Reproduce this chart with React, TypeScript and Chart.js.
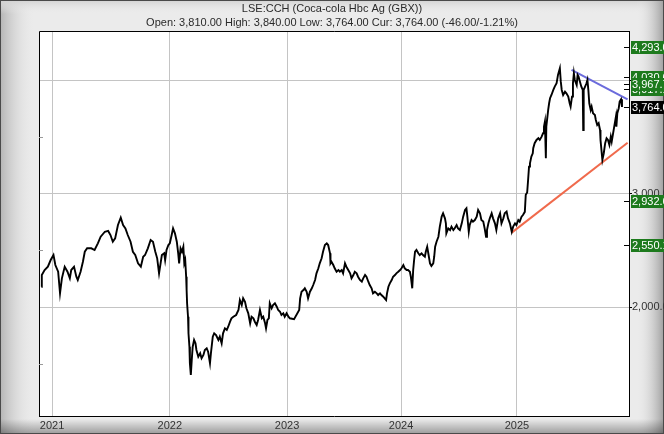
import React, { useEffect, useRef } from "react";
import { Chart, registerables } from "chart.js";
Chart.register(...registerables);

const TITLE = "LSE:CCH (Coca-cola Hbc Ag (GBX))";
const SUBTITLE = "Open: 3,810.00 High: 3,840.00 Low: 3,764.00 Cur: 3,764.00 (-46.00/-1.21%)";

const YEAR_LABELS = ["2021", "2022", "2023", "2024", "2025"];
const YEAR_START_DAYS = [28, 280, 531, 775, 1023];
const X_MIN = 0;
const X_MAX = 1263;
const Y_MIN = 1043;
const Y_MAX = 4432;
const Y_GRID = [2000, 3000, 4000];
const Y_MINOR = [1500, 2500, 3500];

// trading-day index since start of chart
const DAYS = [
  5, 6, 12, 19, 25, 31, 35, 41, 45, 49, 55, 61, 66, 69, 75, 80, 83, 89, 94, 98,
  103, 112, 119, 126, 132, 141, 148, 153, 158, 163, 169, 175, 180, 185, 190, 196, 201, 206, 212, 218,
  223, 227, 233, 239, 244, 249, 253, 257, 263, 268, 270, 273, 277, 280, 284, 287, 291, 295, 298, 300,
  303, 306, 309, 311, 313, 315, 316, 317, 319, 320, 322, 323, 325, 327, 329, 332, 335, 337, 341, 345,
  348, 352, 355, 359, 362, 366, 368, 372, 375, 379, 384, 387, 391, 394, 398, 402, 405, 409, 412, 416,
  422, 427, 430, 434, 437, 441, 444, 448, 452, 455, 459, 462, 466, 469, 473, 477, 480, 484, 486, 489,
  492, 494, 498, 501, 505, 509, 512, 516, 519, 523, 526, 530, 534, 537, 546, 557, 559, 562, 566, 569,
  573, 576, 580, 584, 587, 591, 594, 598, 601, 605, 608, 612, 616, 619, 623, 624, 626, 630, 633, 637,
  641, 644, 648, 651, 655, 658, 662, 666, 669, 673, 676, 680, 683, 687, 691, 694, 698, 701, 705, 708,
  712, 715, 719, 723, 726, 730, 733, 737, 740, 743, 745, 748, 751, 755, 758, 762, 765, 769, 773, 776,
  780, 783, 787, 790, 794, 796, 799, 801, 803, 805, 808, 812, 815, 819, 822, 826, 828, 831, 834, 837,
  840, 844, 846, 848, 851, 855, 858, 862, 865, 869, 871, 872, 876, 880, 883, 887, 890, 894, 897, 901,
  905, 908, 912, 915, 917, 920, 922, 926, 929, 933, 937, 940, 944, 947, 951, 954, 957, 959, 962, 965,
  969, 972, 976, 979, 983, 987, 990, 994, 997, 1001, 1004, 1008, 1012, 1015, 1019, 1022, 1026, 1029, 1033, 1036,
  1040, 1042, 1045, 1047, 1049, 1051, 1054, 1057, 1058, 1061, 1065, 1069, 1072, 1076, 1079, 1081, 1083, 1085, 1086, 1090,
  1092, 1094, 1097, 1101, 1104, 1108, 1111, 1115, 1117, 1119, 1122, 1126, 1129, 1133, 1136, 1138, 1141, 1143, 1145, 1147,
  1151, 1153, 1155, 1158, 1161, 1164, 1165, 1166, 1169, 1172, 1174, 1176, 1178, 1181, 1183, 1186, 1190, 1192, 1195, 1198,
  1201, 1202, 1204, 1206, 1209, 1212, 1215, 1218, 1221, 1224, 1226, 1229, 1232, 1235, 1236, 1238, 1241, 1243, 1246, 1248,
];

const PRICES = [
  2181, 2284, 2328, 2357, 2416, 2460, 2372, 2313, 2123, 2255, 2357, 2313, 2255, 2328, 2357, 2269, 2240, 2313, 2401, 2489,
  2519, 2519, 2504, 2563, 2621, 2665, 2672, 2636, 2577, 2607, 2724, 2789, 2724, 2695, 2636, 2577, 2489, 2460, 2387, 2357,
  2445, 2460, 2519, 2592, 2577, 2489, 2431, 2299, 2460, 2475, 2416, 2504, 2548, 2563, 2636, 2695, 2651, 2577, 2475, 2387,
  2519, 2489, 2533, 2387, 2416, 2269, 2152, 2035, 1917, 1771, 1653, 1507, 1404, 1536, 1653, 1712, 1683, 1624, 1565, 1595,
  1551, 1580, 1624, 1639, 1609, 1507, 1595, 1741, 1771, 1756, 1712, 1741, 1683, 1771, 1815, 1800, 1829, 1873, 1903, 1917,
  1932, 1976, 2064, 2020, 2079, 2049, 1991, 1947, 1859, 1917, 1903, 1873, 1844, 1888, 1976, 1903, 1917, 1859, 1815, 1888,
  1903, 2035, 1991, 2020, 2035, 2005, 1976, 1961, 1932, 1947, 1917, 1947, 1917, 1903, 1895, 1976, 2079, 2137, 2152, 2167,
  2137, 2079, 2137, 2167, 2196, 2240, 2299, 2343, 2387, 2431, 2489, 2548, 2563, 2548, 2475, 2387, 2401, 2372, 2343, 2313,
  2328, 2313, 2328, 2299, 2387, 2357, 2328, 2299, 2255, 2284, 2313, 2299, 2269, 2240, 2225, 2255, 2284, 2269, 2225, 2196,
  2167, 2123, 2137, 2123, 2108, 2123, 2108, 2093, 2079, 2064, 2123, 2181, 2211, 2240, 2269, 2284, 2299, 2313, 2328, 2343,
  2372, 2343, 2328, 2328, 2313, 2269, 2167, 2328, 2416, 2489, 2504, 2475, 2460, 2475, 2460, 2445, 2489, 2533, 2460, 2387,
  2364, 2387, 2445, 2533, 2577, 2621, 2710, 2798, 2827, 2783, 2739, 2651, 2695, 2680, 2710, 2680, 2695, 2724, 2695, 2680,
  2739, 2798, 2857, 2871, 2798, 2665, 2724, 2768, 2754, 2768, 2798, 2857, 2827, 2768, 2754, 2695, 2621, 2680, 2739, 2783,
  2827, 2783, 2739, 2680, 2783, 2827, 2739, 2783, 2827, 2842, 2783, 2739, 2665, 2710, 2739, 2724, 2768, 2754, 2798, 2812,
  2840, 2990, 3010, 3120, 3238, 3268, 3326, 3356, 3400, 3444, 3473, 3488, 3473, 3502, 3532, 3590, 3634, 3312, 3590, 3737,
  3796, 3840, 3869, 3913, 3942, 3972, 4045, 4104, 3986, 3913, 3869, 3898, 3884, 3854, 3796, 3766, 3854, 3972, 4060, 4001,
  3957, 4045, 4030, 3986, 3942, 3913, 3561, 3913, 3942, 3972, 4001, 3913, 3796, 3737, 3766, 3708, 3693, 3649, 3605, 3620,
  3561, 3473, 3385, 3297, 3356, 3444, 3488, 3473, 3429, 3502, 3458, 3532, 3605, 3678, 3590, 3708, 3752, 3810, 3831, 3764,
];

const SUPPORT_DAYS = [1012, 1260];
const SUPPORT_VALUES = [2657, 3449];
const RESIST_DAYS = [1140, 1260];
const RESIST_VALUES = [4089, 3831];

// right-hand level markers (drawn in this order)
const LEVEL_VALUES = [4293.0, 4030.6, 3917.1, 3967.7, 3764.0, 2932.6, 2550.1];
const LEVEL_KINDS = ["target", "target", "target", "target", "current", "target", "target"];

const FONT = "'Liberation Sans', Arial, sans-serif";

const fmt = (v: number) =>
  v.toLocaleString("en-US", { minimumFractionDigits: 1, maximumFractionDigits: 1 });

const framePlugin = {
  id: "frame",
  beforeDraw(chart: any) {
    const { ctx, width: W, height: H, chartArea: a } = chart;
    ctx.save();
    ctx.fillStyle = "#ebebeb";
    ctx.fillRect(0, 0, W, H);
    let g = ctx.createLinearGradient(0, 0, 36, 0);
    g.addColorStop(0, "#b4b4b4");
    g.addColorStop(1, "rgba(236,236,236,0)");
    ctx.fillStyle = g;
    ctx.fillRect(0, 0, 36, H);
    g = ctx.createLinearGradient(0, 0, 0, 14);
    g.addColorStop(0, "#d2d2d2");
    g.addColorStop(1, "rgba(236,236,236,0)");
    ctx.fillStyle = g;
    ctx.fillRect(0, 0, W, 14);
    g = ctx.createLinearGradient(636, 0, W, 0);
    g.addColorStop(0, "rgba(236,236,236,0)");
    g.addColorStop(1, "#9e9e9e");
    ctx.fillStyle = g;
    ctx.fillRect(636, 0, W - 636, H);
    g = ctx.createLinearGradient(0, 419, 0, H);
    g.addColorStop(0, "rgba(0,0,0,0)");
    g.addColorStop(1, "rgba(0,0,0,0.34)");
    ctx.fillStyle = g;
    ctx.fillRect(0, 419, W, H - 419);
    ctx.strokeStyle = "#4a4a4a";
    ctx.lineWidth = 1;
    ctx.strokeRect(0.5, 0.5, W - 1, H - 1);
    ctx.fillStyle = "#ffffff";
    ctx.fillRect(a.left, a.top, a.right - a.left, a.bottom - a.top);
    ctx.restore();
  },
  afterDraw(chart: any) {
    const { ctx, width: W, chartArea: a } = chart;
    const y = chart.scales.y;
    ctx.save();
    ctx.strokeStyle = "#000";
    ctx.lineWidth = 1;
    ctx.beginPath();
    ctx.moveTo(a.left + 0.5, a.bottom);
    ctx.lineTo(a.left + 0.5, a.top + 0.5);
    ctx.lineTo(a.right, a.top + 0.5);
    ctx.stroke();
    ctx.strokeStyle = "#9a9a9a";
    Y_MINOR.forEach((v) => {
      const py = Math.round(y.getPixelForValue(v)) + 0.5;
      ctx.beginPath();
      ctx.moveTo(a.left, py);
      ctx.lineTo(a.left + 4, py);
      ctx.stroke();
    });
    ctx.font = `11px ${FONT}`;
    ctx.textBaseline = "middle";
    ctx.textAlign = "left";
    LEVEL_VALUES.forEach((v, i) => {
      const py = Math.round(y.getPixelForValue(v));
      ctx.strokeStyle = "#000";
      ctx.beginPath();
      ctx.moveTo(a.right - 5, py + 0.5);
      ctx.lineTo(a.right, py + 0.5);
      ctx.stroke();
      ctx.fillStyle = LEVEL_KINDS[i] === "current" ? "#000000" : "#1d7a1d";
      ctx.fillRect(a.right + 2, py - 6, W - a.right, 13);
      ctx.fillStyle = "#ffffff";
      ctx.fillText(fmt(v), a.right + 3, py + 1);
    });
    ctx.fillStyle = "#2a2a2a";
    ctx.textAlign = "center";
    ctx.fillText(TITLE, W / 2, 9);
    ctx.fillText(SUBTITLE, W / 2, 23);
    ctx.restore();
  },
};

export default function App() {
  const ref = useRef<HTMLCanvasElement | null>(null);
  useEffect(() => {
    if (!ref.current) return;
    const chart = new Chart(ref.current, {
      type: "line",
      data: {
        datasets: [
          {
            data: DAYS.map((d, i) => ({ x: d, y: PRICES[i] })),
            borderColor: "#000",
            borderWidth: 1.9,
            pointRadius: 0,
            tension: 0,
          },
          {
            data: SUPPORT_DAYS.map((d, i) => ({ x: d, y: SUPPORT_VALUES[i] })),
            borderColor: "#f06a4c",
            borderWidth: 2,
            pointRadius: 0,
          },
          {
            data: RESIST_DAYS.map((d, i) => ({ x: d, y: RESIST_VALUES[i] })),
            borderColor: "#6b6bdc",
            borderWidth: 2,
            pointRadius: 0,
          },
        ],
      },
      options: {
        animation: false,
        responsive: false,
        devicePixelRatio: 1,
        layout: { padding: { left: 39, top: 31, right: 0, bottom: 0 } },
        plugins: { legend: { display: false }, tooltip: { enabled: false }, title: { display: false } },
        scales: {
          x: {
            type: "linear",
            min: X_MIN,
            max: X_MAX,
            afterBuildTicks: (s: any) => {
              s.ticks = YEAR_START_DAYS.map((v) => ({ value: v }));
            },
            afterFit: (s: any) => {
              s.height = 18;
            },
            grid: { color: "#c4c4c4", drawTicks: false },
            border: { color: "#000", width: 1 },
            ticks: {
              padding: 3,
              color: "#333",
              font: { family: FONT, size: 11 },
              maxRotation: 0,
              autoSkip: false,
              callback: (v: any) => {
                const i = YEAR_START_DAYS.indexOf(Number(v));
                return i >= 0 ? YEAR_LABELS[i] : "";
              },
            },
          },
          y: {
            type: "linear",
            position: "right",
            min: Y_MIN,
            max: Y_MAX,
            afterBuildTicks: (s: any) => {
              s.ticks = Y_GRID.map((v) => ({ value: v }));
            },
            afterFit: (s: any) => {
              s.width = 35;
            },
            grid: { color: "#c4c4c4", tickColor: "#000", tickLength: 3 },
            border: { color: "#000", width: 1 },
            ticks: {
              padding: 0,
              color: "#333",
              font: { family: FONT, size: 11 },
              callback: (v: any) => fmt(Number(v)),
            },
          },
        },
      },
      plugins: [framePlugin],
    } as any);
    return () => chart.destroy();
  }, []);
  return (
    <div style={{ position: "fixed", left: 0, top: 0, width: 664, height: 434 }}>
      <canvas ref={ref} width={664} height={434} style={{ display: "block" }} />
    </div>
  );
}
